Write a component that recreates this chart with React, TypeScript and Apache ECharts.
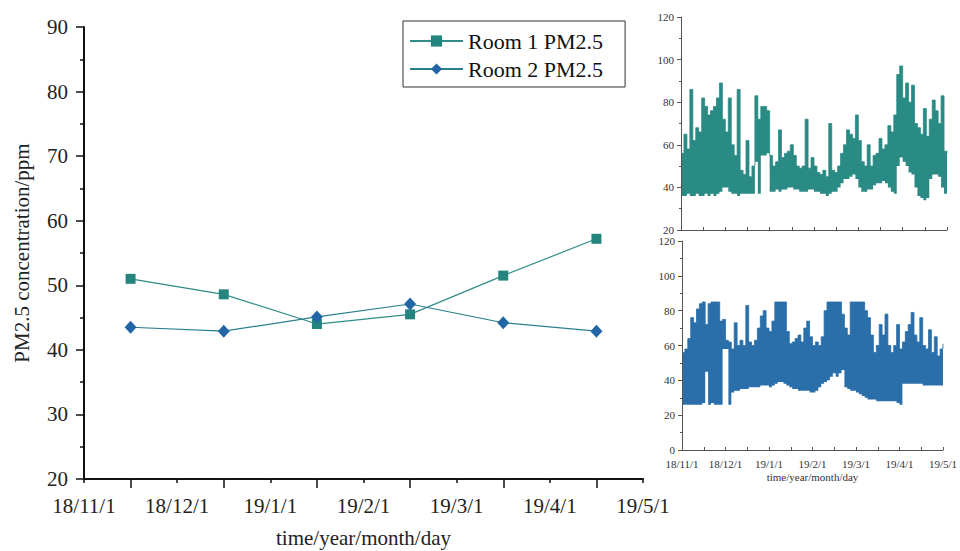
import React, { useEffect, useRef } from 'react';
import * as echarts from 'echarts';

// Month tick labels (shared by all three panels)
const monthLabels = ['18/11/1', '18/12/1', '19/1/1', '19/2/1', '19/3/1', '19/4/1', '19/5/1'];

// Monthly mean PM2.5 (main panel), one value per month, plotted mid-month
const room1Monthly = [51.0, 48.6, 44.0, 45.5, 51.5, 57.2];
const room2Monthly = [43.5, 42.9, 45.1, 47.1, 44.2, 42.9];

// Dense record, read as (low, high) envelope per 2-day slot, Room 1 (top inset)
const room1Low = [
  36, 36, 37, 36, 36, 37, 36, 36, 37, 36,
  37, 36, 37, 38, 40, 40, 38, 37, 37, 36,
  37, 37, 37, 37, 37, 52, 37, 55, 55, 56,
  38, 38, 39, 38, 39, 39, 40, 40, 39, 39,
  38, 38, 38, 39, 39, 38, 38, 37, 37, 36,
  37, 38, 38, 40, 42, 44, 44, 45, 46, 44,
  40, 38, 38, 39, 39, 41, 42, 42, 43, 42,
  40, 38, 37, 50, 54, 52, 50, 47, 46, 40,
  36, 35, 34, 35, 44, 46, 46, 45, 40, 37,
  30,
];
const room1High = [
  56, 65, 58, 86, 62, 68, 66, 82, 78, 74,
  76, 78, 82, 89, 72, 66, 82, 60, 55, 86,
  48, 46, 62, 45, 50, 83, 72, 78, 78, 76,
  55, 50, 52, 67, 54, 56, 57, 60, 55, 50,
  49, 50, 72, 49, 54, 50, 47, 46, 48, 45,
  70, 48, 47, 50, 56, 60, 67, 65, 63, 74,
  62, 52, 50, 60, 50, 55, 56, 63, 58, 60,
  69, 66, 74, 93, 97, 82, 89, 80, 88, 70,
  68, 65, 77, 64, 72, 81, 76, 70, 83, 57,
  56,
];

// Dense record, (low, high) envelope per 2-day slot, Room 2 (bottom inset)
const room2Low = [
  26, 26, 26, 26, 26, 26, 26, 27, 45, 26,
  27, 26, 26, 26, 58, 58, 26, 33, 34, 34,
  35, 35, 35, 36, 36, 36, 36, 37, 37, 37,
  36, 37, 38, 39, 39, 38, 37, 36, 35, 35,
  34, 34, 34, 34, 33, 33, 34, 36, 38, 39,
  40, 42, 44, 42, 44, 46, 36, 35, 34, 34,
  33, 32, 31, 30, 29, 29, 29, 28, 28, 28,
  28, 28, 28, 28, 27, 26, 38, 38, 38, 38,
  38, 38, 38, 37, 37, 37, 37, 37, 37, 37,
  37,
];
const room2High = [
  56, 58, 64, 76, 73, 81, 84, 85, 72, 84,
  85, 85, 85, 74, 75, 63, 62, 58, 73, 60,
  63, 60, 83, 62, 60, 63, 70, 77, 80, 70,
  68, 74, 85, 85, 85, 85, 68, 61, 62, 64,
  66, 62, 70, 74, 65, 60, 62, 60, 65, 80,
  85, 85, 85, 85, 85, 78, 70, 66, 85, 85,
  85, 85, 85, 80, 76, 66, 56, 60, 72, 66,
  78, 60, 56, 60, 72, 58, 62, 68, 72, 79,
  66, 62, 76, 60, 58, 69, 56, 65, 54, 58,
  61,
];

const SLOT_DAYS = 2;
const AXIS_DAYS = 180;
const FONT = '"Liberation Serif", "Times New Roman", serif';

// slot start days (category keys of the hidden slot axes)
const slotDays = room1Low.map((_, i) => String(i * SLOT_DAYS));

// Envelope band = invisible stacked base (low) + filled stacked span (high - low)
function bandSeries(low: number[], high: number[], xIdx: number, yIdx: number, color: string, stackId: string) {
  return [
    {
      type: 'line',
      xAxisIndex: xIdx,
      yAxisIndex: yIdx,
      stack: stackId,
      step: 'end',
      symbol: 'none',
      showSymbol: false,
      silent: true,
      data: low,
      lineStyle: { opacity: 0 },
    },
    {
      type: 'line',
      xAxisIndex: xIdx,
      yAxisIndex: yIdx,
      stack: stackId,
      step: 'end',
      symbol: 'none',
      showSymbol: false,
      silent: true,
      data: high.map((h, i) => h - low[i]),
      lineStyle: { color, width: 0.8 },
      areaStyle: { color, opacity: 1 },
    },
  ];
}

const smallAxisLine = { show: true, lineStyle: { color: '#555', width: 1 } };

export default function App() {
  const ref = useRef<HTMLDivElement>(null);
  useEffect(() => {
    if (!ref.current) return;
    const chart = echarts.init(ref.current, undefined, { renderer: 'svg' });
    const option: any = {
      animation: false,
      backgroundColor: '#fff',
      grid: [
        { left: 84, top: 27, width: 559, height: 452, containLabel: false, outerBoundsMode: 'none' },
        { left: 681, top: 17, width: 266, height: 213, containLabel: false, outerBoundsMode: 'none' },
        { left: 682, top: 241, width: 261, height: 209, containLabel: false, outerBoundsMode: 'none' },
      ],
      legend: {
        data: ['Room 1 PM2.5', 'Room 2 PM2.5'],
        orient: 'vertical',
        left: 403,
        top: 21,
        itemWidth: 53,
        itemHeight: 14,
        itemGap: 6,
        padding: [9, 22, 7, 6],
        borderColor: '#333',
        borderWidth: 1,
        backgroundColor: '#fff',
        textStyle: { fontSize: 22, fontFamily: FONT, color: '#111', lineHeight: 20 },
      },
      xAxis: [
        {
          gridIndex: 0,
          type: 'value',
          min: 0,
          max: 6,
          interval: 1,
          axisLine: { show: true, lineStyle: { color: '#111', width: 2 } },
          axisTick: { show: true, length: 4, lineStyle: { color: '#111', width: 1.5 } },
          minorTick: { show: true, splitNumber: 2, length: 9, lineStyle: { color: '#111', width: 1.5 } },
          splitLine: { show: false },
          axisLabel: {
            margin: 16,
            fontSize: 21,
            fontFamily: FONT,
            color: '#222',
            formatter: (v: number) => monthLabels[Math.round(v)] ?? '',
          },
          name: 'time/year/month/day',
          nameLocation: 'middle',
          nameGap: 48,
          nameTextStyle: { fontSize: 21, fontFamily: FONT, color: '#222' },
        },
        {
          gridIndex: 1,
          type: 'value',
          min: 0,
          max: AXIS_DAYS,
          interval: 15,
          axisLine: smallAxisLine,
          axisTick: { show: true, inside: true, length: 3, lineStyle: { color: '#555' } },
          splitLine: { show: false },
          axisLabel: { show: false },
          z: 5,
        },
        {
          gridIndex: 2,
          type: 'value',
          min: 0,
          max: AXIS_DAYS,
          interval: 15,
          axisLine: smallAxisLine,
          axisTick: { show: true, inside: true, length: 3, lineStyle: { color: '#555' } },
          splitLine: { show: false },
          axisLabel: {
            margin: 8,
            fontSize: 11,
            fontFamily: FONT,
            color: '#333',
            formatter: (v: number) => (Math.round(v) % 30 === 0 ? monthLabels[Math.round(v) / 30] : ''),
          },
          name: 'time/year/month/day',
          nameLocation: 'middle',
          nameGap: 21,
          nameTextStyle: { fontSize: 11, fontFamily: FONT, color: '#333' },
          z: 5,
        },
        {
          gridIndex: 1,
          type: 'category',
          data: slotDays,
          boundaryGap: false,
          show: false,
        },
        {
          gridIndex: 2,
          type: 'category',
          data: slotDays,
          boundaryGap: false,
          show: false,
        },
      ],
      yAxis: [
        {
          gridIndex: 0,
          type: 'value',
          min: 20,
          max: 90,
          interval: 10,
          axisLine: { show: true, lineStyle: { color: '#111', width: 2 } },
          axisTick: { show: true, length: 8, lineStyle: { color: '#111', width: 1.5 } },
          minorTick: { show: true, splitNumber: 2, length: 4, lineStyle: { color: '#111', width: 1.5 } },
          splitLine: { show: false },
          axisLabel: { margin: 16, fontSize: 21, fontFamily: FONT, color: '#222' },
          name: 'PM2.5 concentration/ppm',
          nameLocation: 'middle',
          nameGap: 52,
          nameTextStyle: { fontSize: 21, fontFamily: FONT, color: '#222' },
        },
        {
          gridIndex: 1,
          type: 'value',
          min: 20,
          max: 120,
          interval: 20,
          axisLine: smallAxisLine,
          axisTick: { show: true, length: 4, lineStyle: { color: '#555' } },
          minorTick: { show: true, splitNumber: 2, length: 2, lineStyle: { color: '#555' } },
          splitLine: { show: false },
          axisLabel: { margin: 7, fontSize: 11, fontFamily: FONT, color: '#333' },
          z: 5,
        },
        {
          gridIndex: 2,
          type: 'value',
          min: 0,
          max: 120,
          interval: 20,
          axisLine: smallAxisLine,
          axisTick: { show: true, length: 4, lineStyle: { color: '#555' } },
          minorTick: { show: true, splitNumber: 2, length: 2, lineStyle: { color: '#555' } },
          splitLine: { show: false },
          axisLabel: { margin: 7, fontSize: 11, fontFamily: FONT, color: '#333' },
          z: 5,
        },
      ],
      series: [
        {
          name: 'Room 1 PM2.5',
          type: 'line',
          xAxisIndex: 0,
          yAxisIndex: 0,
          data: room1Monthly.map((v, i) => [i + 0.5, v]),
          symbol: 'rect',
          symbolSize: 10,
          lineStyle: { color: '#2f8c88', width: 1.2 },
          itemStyle: { color: '#24857f' },
        },
        {
          name: 'Room 2 PM2.5',
          type: 'line',
          xAxisIndex: 0,
          yAxisIndex: 0,
          data: room2Monthly.map((v, i) => [i + 0.5, v]),
          symbol: 'diamond',
          symbolSize: [12, 13],
          lineStyle: { color: '#2a7f8e', width: 1.2 },
          itemStyle: { color: '#2366a6' },
        },
        ...bandSeries(room1Low, room1High, 3, 1, '#2a8a84', 'room1'),
        ...bandSeries(room2Low, room2High, 4, 2, '#2a6faa', 'room2'),
      ],
    };
    chart.setOption(option);
    return () => chart.dispose();
  }, []);
  return (
    <div
      ref={ref}
      style={{ position: 'absolute', left: 0, top: 0, width: 960, height: 551, background: '#fff' }}
    />
  );
}
